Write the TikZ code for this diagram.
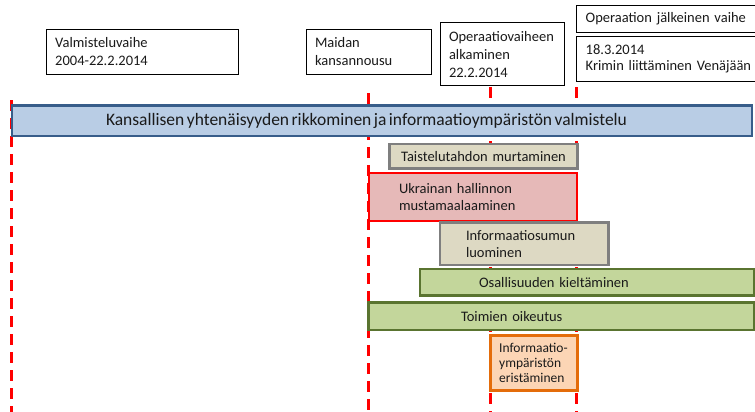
\documentclass[tikz,border=0pt]{standalone}
\usepackage{fontspec}
\setmainfont{Carlito}
\definecolor{bluefill}{HTML}{B9CDE5}
\definecolor{blueline}{HTML}{385D8A}
\definecolor{tanfill}{HTML}{DDD9C3}
\definecolor{grayline}{HTML}{7F7F7F}
\definecolor{pinkfill}{HTML}{E6B9B8}
\definecolor{greenfill}{HTML}{C3D69B}
\definecolor{greenline}{HTML}{5A7430}
\definecolor{orangefill}{HTML}{FCD5B5}
\definecolor{orangeline}{HTML}{E46C0A}
\definecolor{txt}{HTML}{1A1A1A}
\newcommand{\tightspace}{\spaceskip=2.5pt plus 0.5pt minus 0.5pt\relax}
\tikzset{
  hdrbox/.style={draw=black, line width=0.9pt, rectangle, anchor=north west, outer sep=0pt,
    inner ysep=0pt, align=left, text=txt, font=\fontsize{14.5}{18}\selectfont},
  barbox/.style={rectangle, anchor=north west, outer sep=0pt, inner ysep=0pt, align=left,
    text=txt, font=\fontsize{14.5}{17}\selectfont},
  vline/.style={draw=red, line width=2.5pt, dash pattern=on 11pt off 7pt},
}
\begin{document}
\begin{tikzpicture}[x=1pt,y=-1pt]
\clip (0,0) rectangle (755,412);
\fill[white] (0,0) rectangle (755,412);
% dashed time lines
\coordinate (l1t) at (11.5,100);  \coordinate (l1b) at (11.5,412);
\coordinate (l2t) at (368.3,93);  \coordinate (l2b) at (368.3,412);
\coordinate (l3t) at (490.7,87);  \coordinate (l3b) at (490.7,412);
\coordinate (l4t) at (576.7,87);  \coordinate (l4b) at (576.7,412);
\draw[vline] (l1t) -- (l1b);
\draw[vline] (l2t) -- (l2b);
\draw[vline] (l3t) -- (l3b);
\draw[vline] (l4t) -- (l4b);
% header boxes
\node[hdrbox, minimum width=191.6pt, minimum height=44.7pt, text width=174.6pt, inner xsep=8.5pt]
  (valm) at (46.7,29.3) {Valmisteluvaihe\\2004-22.2.2014};
\node[hdrbox, minimum width=125pt, minimum height=44.7pt, text width=108.4pt, inner xsep=8.3pt]
  (maidan) at (306.7,29.3) {Maidan\\kansannousu};
\node[hdrbox, minimum width=124.3pt, minimum height=63pt, text width=106.3pt, inner xsep=9pt]
  (oper) at (440,22.7) {Operaatiovaiheen\\alkaminen\\22.2.2014};
\node[hdrbox, minimum width=200pt, minimum height=26.6pt, text width=182pt, inner xsep=9pt]
  (jalk) at (576.7,5.7) {Operaation jälkeinen vaihe};
\node[hdrbox, minimum width=200pt, minimum height=44.3pt, text width=182pt, inner xsep=9pt, font=\fontsize{14.5}{16.5}\selectfont]
  (date) at (576.7,36.7) {18.3.2014\\Krimin liittäminen Venäjään};
% bars
\node[barbox, draw=blueline, fill=bluefill, line width=2.5pt, minimum width=740pt, minimum height=30.3pt,
  text width=552pt, inner xsep=94pt, font=\fontsize{17.5}{20}\selectfont]
  (blue) at (12,105.7) {\tightspace Kansallisen yhtenäisyyden rikkominen ja informaatioympäristön valmistelu};
\node[barbox, draw=grayline, fill=tanfill, line width=2.5pt, minimum width=188.4pt, minimum height=24.3pt,
  text width=168.4pt, inner xsep=10pt, align=center]
  (taist) at (389.3,144) {Taistelutahdon murtaminen};
\node[barbox, draw=red, fill=pinkfill, line width=2pt, minimum width=207.7pt, minimum height=47.4pt,
  text width=147.7pt, inner xsep=30pt]
  (ukr) at (369,173.3) {Ukrainan hallinnon\\mustamaalaaminen};
\node[barbox, draw=grayline, fill=tanfill, line width=2.5pt, minimum width=168.3pt, minimum height=42.3pt,
  text width=116.3pt, inner xsep=26pt]
  (sumu) at (440,222.7) {Informaatiosumun\\luominen};
\node[barbox, draw=greenline, fill=greenfill, line width=2.5pt, minimum width=334.3pt, minimum height=26.7pt,
  text width=216.3pt, inner xsep=59pt]
  (osal) at (420,269) {Osallisuuden kieltäminen};
\node[barbox, draw=greenline, fill=greenfill, line width=2.5pt, minimum width=386pt, minimum height=27.3pt,
  text width=200.6pt, inner xsep=92.7pt]
  (toim) at (368.3,302.7) {Toimien oikeutus};
\node[barbox, draw=orangeline, fill=orangefill, line width=2.5pt, minimum width=86.6pt, minimum height=55pt,
  text width=69.6pt, inner xsep=8.5pt, font=\fontsize{13.5}{15}\selectfont]
  (erist) at (490.7,335.7) {Informaatio-\\ympäristön\\eristäminen};
\end{tikzpicture}
\end{document}
